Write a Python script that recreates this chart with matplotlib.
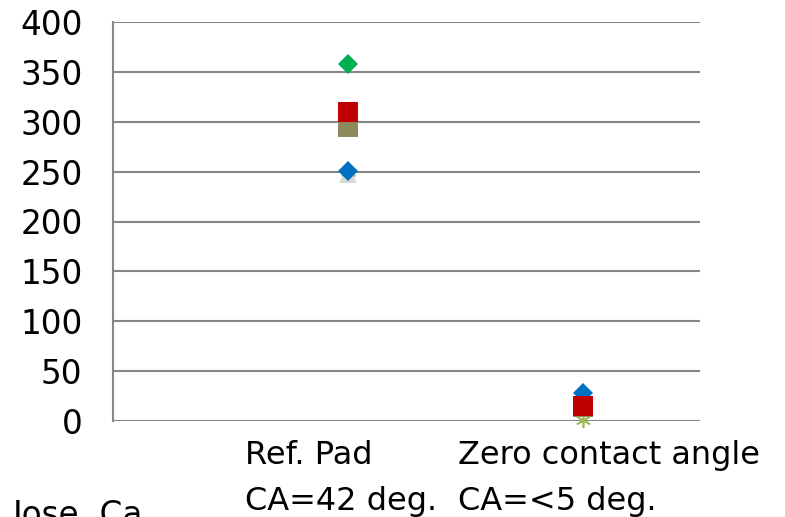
import matplotlib
matplotlib.use("Agg")

import matplotlib.pyplot as plt

plt.rcParams["font.family"] = ["DejaVu Sans"]

# measured values for the two pad types
categories = [1, 2]
cat_line1 = ["Ref. Pad", "Zero contact angle"]
cat_line2 = ["CA=42 deg.", "CA=<5 deg."]
cat_left = [0.562, 1.468]  # left edge of each label block, in data x

asterisk_vals = [250, 1]
triangle_vals = [248, 15]
green_vals = [358, 15]
blue_vals = [251, 28]
olive_vals = [295, 14]
red_vals = [310, 15]

yticks = [0, 50, 100, 150, 200, 250, 300, 350, 400]

fig = plt.figure(figsize=(7.85, 5.17), dpi=100)
ax = fig.add_axes([113 / 785, 96 / 517, 587 / 785, 399 / 517])

grid_color = "#868686"
for y in yticks:
    ax.axhline(y, color=grid_color, linewidth=1.5, zorder=1)

ax.plot(categories, asterisk_vals, linestyle="none", marker=(6, 2, 0),
        markersize=11, markeredgewidth=1.2, color="#9BBB59", zorder=3,
        clip_on=False)
ax.plot(categories, triangle_vals, linestyle="none", marker="^",
        markersize=13, color="#D9D9D9", markeredgewidth=0, zorder=4,
        clip_on=False)
ax.plot(categories, green_vals, linestyle="none", marker="D",
        markersize=10.2, color="#00B050", markeredgewidth=0, zorder=5,
        clip_on=False)
ax.plot(categories, blue_vals, linestyle="none", marker="D",
        markersize=10.2, color="#0070C0", markeredgewidth=0, zorder=6,
        clip_on=False)
ax.plot(categories, olive_vals, linestyle="none", marker="s",
        markersize=14.4, color="#8C8A5C", markeredgewidth=0, zorder=7,
        clip_on=False)
ax.plot(categories, red_vals, linestyle="none", marker="s",
        markersize=14.4, color="#C00000", markeredgewidth=0, zorder=8,
        clip_on=False)

ax.set_xlim(0, 2.5)
ax.set_ylim(0, 400)
ax.set_yticks(yticks)
ax.set_yticklabels([str(v) for v in yticks])
ax.tick_params(axis="y", length=0, pad=22, labelsize=23.5)
ax.set_xticks([])

for side in ["top", "right", "bottom"]:
    ax.spines[side].set_visible(False)
ax.spines["left"].set_color(grid_color)
ax.spines["left"].set_linewidth(1.5)

# two-line category labels, left aligned
for x, l1, l2 in zip(cat_left, cat_line1, cat_line2):
    xf = ax.transData.transform((x, 0))[0] / fig.bbox.width
    fig.text(xf, 1 - 464 / 517, l1, fontsize=23, ha="left", va="baseline")
    fig.text(xf, 1 - 510 / 517, l2, fontsize=23, ha="left", va="baseline")

fig.text(13 / 785, 1 - 525 / 517, "Jose, Ca", fontsize=23.5, ha="left", va="baseline")

fig.savefig("out.png", dpi=100)
